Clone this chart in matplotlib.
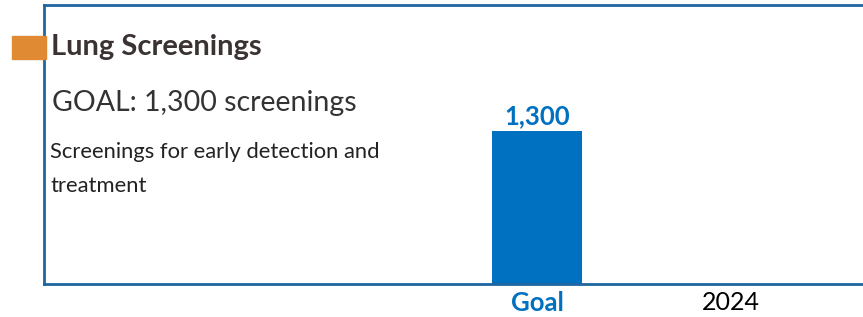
import numpy as np
import matplotlib
matplotlib.use("Agg")
import matplotlib.pyplot as plt
from matplotlib.patches import Rectangle

categories = ["Goal", "2024"]
values = [1300, np.nan]
value_labels = ["1,300", ""]
title = "Lung Screenings"
goal_text = "GOAL: 1,300 screenings"
desc_lines = ["Screenings for early detection and", "treatment"]

W, H = 863, 317
fig = plt.figure(figsize=(W / 100, H / 100), dpi=100)
plt.rcParams['font.family'] = ['Lato', 'DejaVu Sans']

frame_col = "#1F66A0"
bar_col = "#0070C0"

# axes spanning the frame
x0, x1, y0, y1 = 44, 863, 284, 5
ax = fig.add_axes([x0 / W, 1 - y0 / H, (x1 - x0) / W, (y0 - y1) / H])
xpos = np.arange(len(categories))
ax.bar(xpos, values, width=0.464, color=bar_col, zorder=2)
ax.set_xlim(-2.541, 1.680)
ax.set_ylim(0, 2370)
for sp in ["top", "left", "bottom"]:
    ax.spines[sp].set_color(frame_col)
    ax.spines[sp].set_linewidth(2)
ax.spines["right"].set_visible(False)
ax.set_yticks([])
ax.set_xticks(xpos)
ax.set_xticklabels(categories, fontsize=18.5)
ax.tick_params(axis="x", length=0, pad=5)
tl = ax.get_xticklabels()
tl[0].set_color(bar_col)
tl[0].set_fontweight("bold")
tl[1].set_color("black")
tl[1].set_fontsize(18)
for x, v, lab in zip(xpos, values, value_labels):
    if not np.isnan(v) and lab:
        ax.annotate(lab, (x, v), xytext=(0, 7), textcoords="offset pixels",
                    ha="center", va="baseline", fontsize=18.5,
                    fontweight="bold", color=bar_col)

# orange marker
fig.patches.append(Rectangle((12 / W, 1 - 59 / H), 34 / W, 23 / H,
                             transform=fig.transFigure, color="#E08A34",
                             zorder=0))

fig.text(51 / W, 1 - 55 / H, title, fontsize=21, fontweight="bold",
         color="#3B3232", va="baseline")
fig.text(52 / W, 1 - 111.5 / H, goal_text, fontsize=20.5, color="#333333",
         va="baseline")
for i, line in enumerate(desc_lines):
    fig.text(50 / W, 1 - (158 + 33.5 * i) / H, line, fontsize=15.8,
             color="#222222", va="baseline")

fig.savefig("out.png", dpi=100)
